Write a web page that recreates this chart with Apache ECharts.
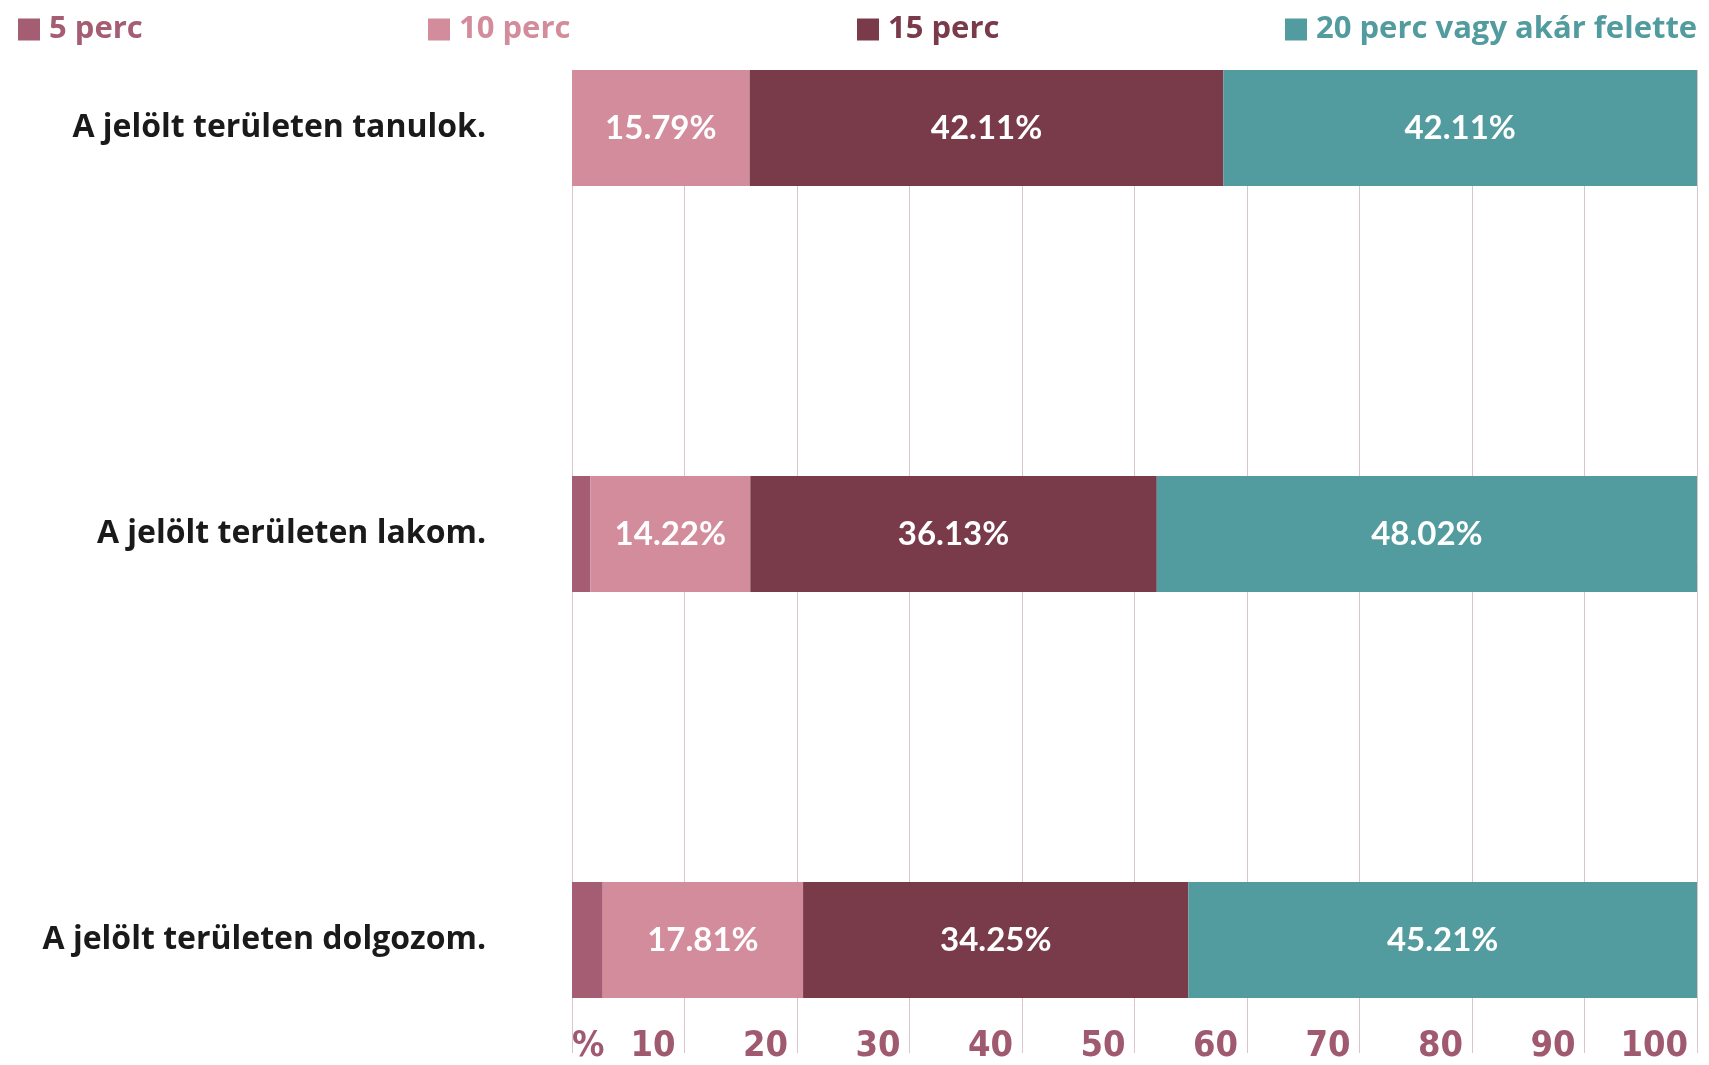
<!DOCTYPE html>
<html>
<head>
<meta charset="utf-8">
<script src="https://cdn.jsdelivr.net/npm/echarts@6/dist/echarts.min.js"></script>
<style>
  html, body { margin: 0; padding: 0; background: #fff; }
  #chart { width: 1709px; height: 1065px; }
</style>
</head>
<body>
<div id="chart"></div>
<script>
// kategóriák (felülről lefelé)
const categories = [
  "A jelölt területen tanulok.",
  "A jelölt területen lakom.",
  "A jelölt területen dolgozom."
];
const seriesNames = ["5 perc", "10 perc", "15 perc", "20 perc vagy akár felette"];
const perc5 = [0, 1.63, 2.73];
const perc10 = [15.79, 14.22, 17.81];
const perc15 = [42.11, 36.13, 34.25];
const perc20 = [42.11, 48.02, 45.21];
const tickValues = [0, 10, 20, 30, 40, 50, 60, 70, 80, 90, 100];

const colors = ["#A45D72", "#D38C9C", "#793A4A", "#529B9E"];
const legendLeft = [13, 423, 852, 1280];
const FONT = "Lato, 'Noto Sans', sans-serif";
const WIDE = "'Open Sans', 'Noto Sans', sans-serif";

const chart = echarts.init(document.getElementById("chart"));

const values = [perc5, perc10, perc15, perc20];
const series = values.map((data, i) => ({
  name: seriesNames[i],
  type: "bar",
  stack: "total",
  xAxisIndex: 0,
  yAxisIndex: 0,
  barWidth: 116,
  data: data,
  itemStyle: { color: colors[i] },
  label: {
    show: i > 0,
    position: "inside",
    color: "#fff",
    fontFamily: FONT,
    fontWeight: "bold",
    fontSize: 33,
    formatter: (p) => p.value.toFixed(2) + "%",
  },
}));

const legends = seriesNames.map((n, i) => ({
  data: [n],
  left: legendLeft[i],
  top: 9,
  icon: "rect",
  itemWidth: 22,
  itemHeight: 22,
  textStyle: {
    color: colors[i],
    fontFamily: WIDE,
    fontWeight: "bold",
    fontSize: 31,
    padding: [0, 0, 0, 4],
  },
}));

const option = {
  animation: false,
  legend: legends,
  grid: [
    { left: 572, right: 12, top: 128, bottom: 125 },
    { left: 572, right: 12, top: 70, bottom: 0 },
  ],
  xAxis: [
    { type: "value", gridIndex: 0, min: 0, max: 100, show: false },
    {
      type: "value",
      gridIndex: 1,
      min: 0,
      max: 100,
      interval: 10,
      axisLine: { show: false },
      axisTick: { show: false },
      splitLine: { show: true, lineStyle: { color: "#D8C6CB", width: 1 } },
      axisLabel: {
        inside: true,
        margin: -12,
        align: "right",
        alignMinLabel: "left",
        padding: [0, 9, 0, 0],
        color: "#A05A70",
        fontFamily: "'Liberation Sans Narrow', 'DejaVu Sans Condensed', Lato, sans-serif",
        fontWeight: 600,
        fontSize: 36,
        formatter: (v) => (v === 0 ? "%" : String(v)),
      },
    },
  ],
  yAxis: [
    {
      type: "category",
      gridIndex: 0,
      data: categories,
      inverse: true,
      boundaryGap: false,
      axisLine: { show: false },
      axisTick: { show: false },
      axisLabel: {
        margin: 86,
        color: "#1a1a1a",
        fontFamily: WIDE,
        fontWeight: "bold",
        fontSize: 32,
      },
    },
    { type: "value", gridIndex: 1, show: false },
  ],
  series: series,
};

chart.setOption(option);
</script>
</body>
</html>
